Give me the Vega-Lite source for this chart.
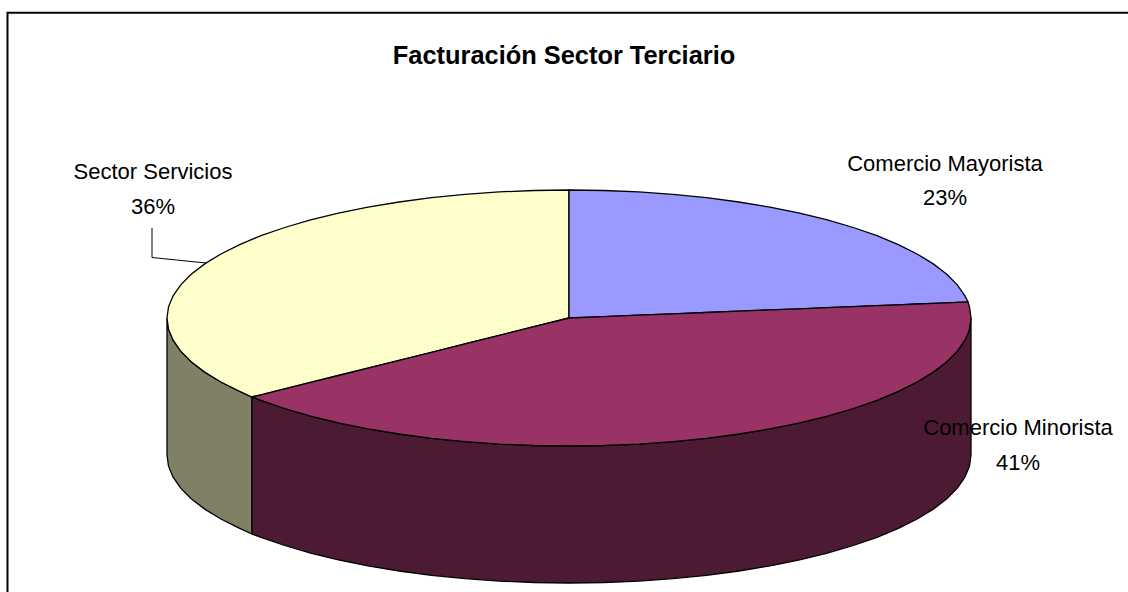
{"$schema":"https://vega.github.io/schema/vega-lite/v6.json","width":1128,"height":592,"padding":0,"autosize":"none","background":"#ffffff","view":{"stroke":null},
"datasets":{
"top":[
{"part":"Sector Servicios","x":167,"y":318,"y2":318},{"part":"Sector Servicios","x":168.5,"y":306.8,"y2":329.2},{"part":"Sector Servicios","x":173.1,"y":295.8,"y2":340.2},{"part":"Sector Servicios","x":180.7,"y":284.9,"y2":351.1},{"part":"Sector Servicios","x":191.2,"y":274.2,"y2":361.8},{"part":"Sector Servicios","x":204.7,"y":263.9,"y2":372.1},{"part":"Sector Servicios","x":220.9,"y":254,"y2":382},{"part":"Sector Servicios","x":239.7,"y":244.6,"y2":391.4},{"part":"Sector Servicios","x":252,"y":239.3,"y2":397},{"part":"Sector Servicios","x":261,"y":235.7,"y2":394.8},{"part":"Sector Servicios","x":284.7,"y":227.5,"y2":388.8},{"part":"Sector Servicios","x":310.6,"y":219.9,"y2":382.4},{"part":"Sector Servicios","x":338.4,"y":213.1,"y2":375.5},{"part":"Sector Servicios","x":368,"y":207.1,"y2":368.1},{"part":"Sector Servicios","x":399.1,"y":202,"y2":360.3},{"part":"Sector Servicios","x":431.5,"y":197.7,"y2":352.3},{"part":"Sector Servicios","x":465,"y":194.4,"y2":343.9},{"part":"Sector Servicios","x":499.2,"y":191.9,"y2":335.4},{"part":"Sector Servicios","x":534,"y":190.5,"y2":326.7},{"part":"Sector Servicios","x":569,"y":190,"y2":318},
{"part":"Comercio Mayorista","x":569,"y":190,"y2":318},{"part":"Comercio Mayorista","x":604,"y":190.5,"y2":316.6},{"part":"Comercio Mayorista","x":638.8,"y":191.9,"y2":315.2},{"part":"Comercio Mayorista","x":673,"y":194.4,"y2":313.8},{"part":"Comercio Mayorista","x":706.5,"y":197.7,"y2":312.5},{"part":"Comercio Mayorista","x":738.9,"y":202,"y2":311.2},{"part":"Comercio Mayorista","x":770,"y":207.1,"y2":309.9},{"part":"Comercio Mayorista","x":799.6,"y":213.1,"y2":308.8},{"part":"Comercio Mayorista","x":827.4,"y":219.9,"y2":307.6},{"part":"Comercio Mayorista","x":853.3,"y":227.5,"y2":306.6},{"part":"Comercio Mayorista","x":877,"y":235.7,"y2":305.6},{"part":"Comercio Mayorista","x":898.3,"y":244.6,"y2":304.8},{"part":"Comercio Mayorista","x":917.1,"y":254,"y2":304},{"part":"Comercio Mayorista","x":933.3,"y":263.9,"y2":303.4},{"part":"Comercio Mayorista","x":946.8,"y":274.2,"y2":302.9},{"part":"Comercio Mayorista","x":957.3,"y":284.9,"y2":302.4},{"part":"Comercio Mayorista","x":964.9,"y":295.8,"y2":302.1},{"part":"Comercio Mayorista","x":968,"y":302,"y2":302},
{"part":"Comercio Minorista","x":252,"y":397,"y2":397},{"part":"Comercio Minorista","x":261,"y":394.8,"y2":400.3},{"part":"Comercio Minorista","x":284.7,"y":388.8,"y2":408.5},{"part":"Comercio Minorista","x":310.6,"y":382.4,"y2":416.1},{"part":"Comercio Minorista","x":338.4,"y":375.5,"y2":422.9},{"part":"Comercio Minorista","x":368,"y":368.1,"y2":428.9},{"part":"Comercio Minorista","x":399.1,"y":360.3,"y2":434},{"part":"Comercio Minorista","x":431.5,"y":352.3,"y2":438.3},{"part":"Comercio Minorista","x":465,"y":343.9,"y2":441.6},{"part":"Comercio Minorista","x":499.2,"y":335.4,"y2":444.1},{"part":"Comercio Minorista","x":534,"y":326.7,"y2":445.5},{"part":"Comercio Minorista","x":569,"y":318,"y2":446},{"part":"Comercio Minorista","x":604,"y":316.6,"y2":445.5},{"part":"Comercio Minorista","x":638.8,"y":315.2,"y2":444.1},{"part":"Comercio Minorista","x":673,"y":313.8,"y2":441.6},{"part":"Comercio Minorista","x":706.5,"y":312.5,"y2":438.3},{"part":"Comercio Minorista","x":738.9,"y":311.2,"y2":434},{"part":"Comercio Minorista","x":770,"y":309.9,"y2":428.9},{"part":"Comercio Minorista","x":799.6,"y":308.8,"y2":422.9},{"part":"Comercio Minorista","x":827.4,"y":307.6,"y2":416.1},{"part":"Comercio Minorista","x":853.3,"y":306.6,"y2":408.5},{"part":"Comercio Minorista","x":877,"y":305.6,"y2":400.3},{"part":"Comercio Minorista","x":898.3,"y":304.8,"y2":391.4},{"part":"Comercio Minorista","x":917.1,"y":304,"y2":382},{"part":"Comercio Minorista","x":933.3,"y":303.4,"y2":372.1},{"part":"Comercio Minorista","x":946.8,"y":302.9,"y2":361.8},{"part":"Comercio Minorista","x":957.3,"y":302.4,"y2":351.1},{"part":"Comercio Minorista","x":964.9,"y":302.1,"y2":340.2},{"part":"Comercio Minorista","x":968,"y":302,"y2":333.6},{"part":"Comercio Minorista","x":969.5,"y":306.8,"y2":329.2},{"part":"Comercio Minorista","x":971,"y":318,"y2":318}
],
"side":[
{"part":"Sector Servicios lado","x":167,"y":318,"y2":455},{"part":"Sector Servicios lado","x":168.5,"y":329.2,"y2":466.2},{"part":"Sector Servicios lado","x":173.1,"y":340.2,"y2":477.2},{"part":"Sector Servicios lado","x":180.7,"y":351.1,"y2":488.1},{"part":"Sector Servicios lado","x":191.2,"y":361.8,"y2":498.8},{"part":"Sector Servicios lado","x":204.7,"y":372.1,"y2":509.1},{"part":"Sector Servicios lado","x":220.9,"y":382,"y2":519},{"part":"Sector Servicios lado","x":239.7,"y":391.4,"y2":528.4},{"part":"Sector Servicios lado","x":252,"y":397,"y2":534},
{"part":"Comercio Minorista lado","x":252,"y":397,"y2":534},{"part":"Comercio Minorista lado","x":261,"y":400.3,"y2":537.3},{"part":"Comercio Minorista lado","x":284.7,"y":408.5,"y2":545.5},{"part":"Comercio Minorista lado","x":310.6,"y":416.1,"y2":553.1},{"part":"Comercio Minorista lado","x":338.4,"y":422.9,"y2":559.9},{"part":"Comercio Minorista lado","x":368,"y":428.9,"y2":565.9},{"part":"Comercio Minorista lado","x":399.1,"y":434,"y2":571},{"part":"Comercio Minorista lado","x":431.5,"y":438.3,"y2":575.3},{"part":"Comercio Minorista lado","x":465,"y":441.6,"y2":578.6},{"part":"Comercio Minorista lado","x":499.2,"y":444.1,"y2":581.1},{"part":"Comercio Minorista lado","x":534,"y":445.5,"y2":582.5},{"part":"Comercio Minorista lado","x":569,"y":446,"y2":583},{"part":"Comercio Minorista lado","x":604,"y":445.5,"y2":582.5},{"part":"Comercio Minorista lado","x":638.8,"y":444.1,"y2":581.1},{"part":"Comercio Minorista lado","x":673,"y":441.6,"y2":578.6},{"part":"Comercio Minorista lado","x":706.5,"y":438.3,"y2":575.3},{"part":"Comercio Minorista lado","x":738.9,"y":434,"y2":571},{"part":"Comercio Minorista lado","x":770,"y":428.9,"y2":565.9},{"part":"Comercio Minorista lado","x":799.6,"y":422.9,"y2":559.9},{"part":"Comercio Minorista lado","x":827.4,"y":416.1,"y2":553.1},{"part":"Comercio Minorista lado","x":853.3,"y":408.5,"y2":545.5},{"part":"Comercio Minorista lado","x":877,"y":400.3,"y2":537.3},{"part":"Comercio Minorista lado","x":898.3,"y":391.4,"y2":528.4},{"part":"Comercio Minorista lado","x":917.1,"y":382,"y2":519},{"part":"Comercio Minorista lado","x":933.3,"y":372.1,"y2":509.1},{"part":"Comercio Minorista lado","x":946.8,"y":361.8,"y2":498.8},{"part":"Comercio Minorista lado","x":957.3,"y":351.1,"y2":488.1},{"part":"Comercio Minorista lado","x":964.9,"y":340.2,"y2":477.2},{"part":"Comercio Minorista lado","x":969.5,"y":329.2,"y2":466.2},{"part":"Comercio Minorista lado","x":971,"y":318,"y2":455}
],
"labels":[
{"label":"Comercio Mayorista","x":945,"y":164},{"label":"23%","x":945,"y":198},
{"label":"Comercio Minorista","x":1018,"y":428},{"label":"41%","x":1018,"y":463},
{"label":"Sector Servicios","x":153,"y":172},{"label":"36%","x":153,"y":207}
],
"leader":[{"x":152,"y":228,"o":1},{"x":152,"y":257.5,"o":2},{"x":206,"y":263,"o":3}],
"frame":[{"x":7.5,"y":592,"o":1},{"x":7.5,"y":12.7,"o":2},{"x":1128,"y":12.7,"o":3}],
"title":[{"label":"Facturación Sector Terciario","x":564,"y":56}]
},
"layer":[
{"data":{"name":"frame"},"mark":{"type":"line","color":"#000000","strokeWidth":2,"interpolate":"linear"},"encoding":{"x":{"field":"x","type":"quantitative","scale":{"domain":[0,1128]},"axis":null},"y":{"field":"y","type":"quantitative","scale":{"domain":[592,0]},"axis":null},"order":{"field":"o"}}},
{"data":{"name":"side"},"mark":{"type":"area","stroke":"#000000","strokeWidth":1.3,"interpolate":"linear"},"encoding":{"x":{"field":"x","type":"quantitative","scale":{"domain":[0,1128]},"axis":null},"y":{"field":"y","type":"quantitative","scale":{"domain":[592,0]},"axis":null},"y2":{"field":"y2"},"color":{"field":"part","type":"nominal","legend":null,"scale":{"domain":["Sector Servicios lado","Comercio Minorista lado"],"range":["#808066","#4D1A33"]}}}},
{"data":{"name":"top"},"mark":{"type":"area","stroke":"#000000","strokeWidth":1.3,"interpolate":"linear"},"encoding":{"x":{"field":"x","type":"quantitative","scale":{"domain":[0,1128]},"axis":null},"y":{"field":"y","type":"quantitative","scale":{"domain":[592,0]},"axis":null},"y2":{"field":"y2"},"fill":{"field":"part","type":"nominal","legend":null,"scale":{"domain":["Comercio Mayorista","Comercio Minorista","Sector Servicios"],"range":["#9999FF","#993366","#FFFFCC"]}}}},
{"data":{"name":"leader"},"mark":{"type":"line","color":"#000000","strokeWidth":1},"encoding":{"x":{"field":"x","type":"quantitative","scale":{"domain":[0,1128]},"axis":null},"y":{"field":"y","type":"quantitative","scale":{"domain":[592,0]},"axis":null},"order":{"field":"o"}}},
{"data":{"name":"labels"},"mark":{"type":"text","font":"Liberation Sans","fontSize":22,"color":"#000000","align":"center","baseline":"middle"},"encoding":{"x":{"field":"x","type":"quantitative","scale":{"domain":[0,1128]},"axis":null},"y":{"field":"y","type":"quantitative","scale":{"domain":[592,0]},"axis":null},"text":{"field":"label"}}},
{"data":{"name":"title"},"mark":{"type":"text","font":"Liberation Sans","fontWeight":"bold","fontSize":25.4,"color":"#000000","align":"center","baseline":"middle"},"encoding":{"x":{"field":"x","type":"quantitative","scale":{"domain":[0,1128]},"axis":null},"y":{"field":"y","type":"quantitative","scale":{"domain":[592,0]},"axis":null},"text":{"field":"label"}}}
]}
